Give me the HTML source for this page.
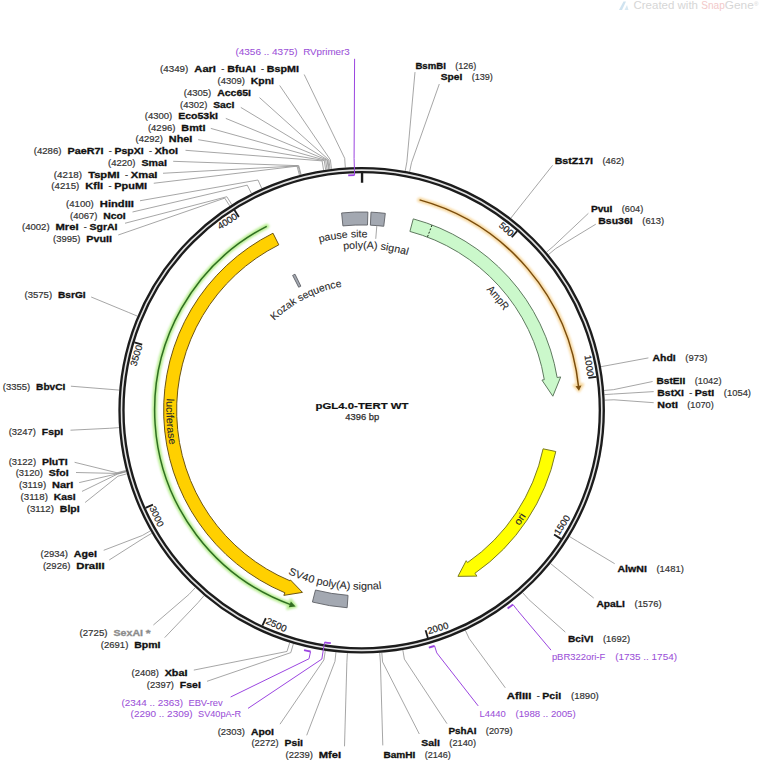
<!DOCTYPE html><html><head><meta charset="utf-8"><style>html,body{margin:0;padding:0;background:#fff;overflow:hidden;width:760px;height:762px}svg{display:block}</style></head><body>
<svg width="760" height="762" viewBox="0 0 760 762" font-family='"Liberation Sans", sans-serif'>
<rect width="760" height="762" fill="#fff"/>
<g opacity="1">
<path d="M619,10 L623.5,1.5 L626,1.5 L622,10 Z" fill="#cfe3f0"/><path d="M624.5,10 L627,5 L628.5,10 Z" fill="#d9e9f3"/>
<text x="633.5" y="9.2" font-size="10.6" fill="#d6d6d6" textLength="64.5" lengthAdjust="spacingAndGlyphs">Created with</text>
<text x="701.3" y="9.2" font-size="10.6" fill="#f2c9c9" textLength="23.5" lengthAdjust="spacingAndGlyphs">Snap</text>
<text x="724.8" y="9.2" font-size="10.6" fill="#d6d6d6" textLength="29" lengthAdjust="spacingAndGlyphs">Gene</text>
<text x="754" y="5.5" font-size="6" fill="#d6d6d6">®</text>
</g>
<g fill="none" stroke="#8f8f8f" stroke-width="0.8">
<polyline points="345.32,167.5 344.7,158.32 304.2,74.5"/>
<polyline points="331.47,168.83 330.33,159.7 279.7,85.5"/>
<polyline points="330.09,169.01 328.9,159.88 259.5,97.6"/>
<polyline points="329.06,169.14 327.83,160.03 240.8,107.4"/>
<polyline points="328.37,169.24 327.11,160.12 225.8,118.4"/>
<polyline points="326.99,169.43 325.68,160.32 210.8,128.4"/>
<polyline points="325.62,169.63 324.25,160.53 198.2,139.7"/>
<polyline points="323.56,169.95 322.11,160.86 185.5,150.3"/>
<polyline points="301.09,174.61 298.8,165.7 173.2,161.3"/>
<polyline points="300.42,174.78 298.1,165.88 163,173.25"/>
<polyline points="299.41,175.05 297.05,166.15 153.75,183.25"/>
<polyline points="261.76,188.4 257.98,180.01 140,200.75"/>
<polyline points="251.41,193.36 247.24,185.16 132.5,212"/>
<polyline points="231.77,204.52 226.85,196.74 125,223.25"/>
<polyline points="229.71,205.83 224.72,198.1 118.25,235"/>
<polyline points="137.31,316.1 128.82,312.54 91.2,297"/>
<polyline points="119.19,390.1 110.02,389.34 70.9,386.2"/>
<polyline points="118.97,427.62 109.79,428.28 70.5,430.2"/>
<polyline points="125.92,470.47 117.01,472.75 74.6,462.3"/>
<polyline points="126.09,471.15 117.19,473.45 76,472.5"/>
<polyline points="126.18,471.48 117.28,473.8 79.2,482.6"/>
<polyline points="126.27,471.82 117.37,474.15 82,491.4"/>
<polyline points="126.81,473.84 117.93,476.24 85.1,502.5"/>
<polyline points="150.37,530.89 142.38,535.46 103.7,550.3"/>
<polyline points="151.76,533.3 143.83,537.96 109.2,560"/>
<polyline points="195.23,587.73 188.94,594.44 153.4,625"/>
<polyline points="204.05,595.61 198.09,602.62 164.7,637.6"/>
<polyline points="289.71,642.67 286.99,651.46 193.8,670.1"/>
<polyline points="293.38,643.77 290.8,652.61 207,681.3"/>
<polyline points="325.27,650.82 323.9,659.91 280,724.2"/>
<polyline points="335.96,652.19 334.99,661.34 306.7,735.3"/>
<polyline points="347.4,653.13 346.86,662.32 344.5,746.3"/>
<polyline points="379.72,652.88 380.4,662.05 382.8,745.4"/>
<polyline points="381.8,652.71 382.56,661.88 419.3,734"/>
<polyline points="402.83,650.04 404.39,659.11 447,723.7"/>
<polyline points="465.33,630.35 469.25,638.68 505.3,687.8"/>
<polyline points="522.67,592.65 528.76,599.54 565.3,632.1"/>
<polyline points="550.56,563.57 557.71,569.37 593.7,598"/>
<polyline points="569.58,536.59 577.44,541.36 614.7,563.7"/>
<polyline points="604.74,400.17 613.93,399.79 653.7,402.7"/>
<polyline points="604.45,394.61 613.63,394.02 653.7,391.6"/>
<polyline points="604.14,390.45 613.31,389.7 652.6,381.5"/>
<polyline points="601.02,366.67 610.07,365.02 648.4,357.9"/>
<polyline points="548.57,254.51 555.64,248.62 595.8,224.2"/>
<polyline points="546.56,252.12 553.55,246.14 588.4,213.3"/>
<polyline points="510.89,218.09 516.53,210.83 552.6,165.3"/>
<polyline points="409.67,171.74 411.49,162.72 439.3,84"/>
<polyline points="405.23,170.88 406.88,161.83 415,72.1"/>
</g>
<path d="M413.28,218.89 A198.2,198.2 0 0 1 557.13,377.54 L560.68,376.94 L552.84,396.21 L541.94,380.08 L544.31,379.68 A185.2,185.2 0 0 0 409.9,231.44 Z" fill="#cbf8cb" stroke="#5f7a5f" stroke-width="1"/>
<line x1="427.52" y1="236.84" x2="431.96" y2="225.15" stroke="#1e2e1e" stroke-width="1" stroke-dasharray="2,1.5"/>
<path d="M555.81,451.52 A198.5,198.5 0 0 1 474.94,573.25 L476.93,576.12 L457.94,576.36 L466.2,560.68 L467.52,562.57 A185.5,185.5 0 0 0 543.1,448.82 Z" fill="#ffff00" stroke="#7c7c22" stroke-width="1"/>
<path d="M272.99,233.21 A198,198 0 0 0 284.92,592.78 L283.84,595.36 L302.47,592.38 L290.35,579.87 L289.96,580.79 A185,185 0 0 1 278.81,244.83 Z" fill="#ffd000" stroke="#6e5612" stroke-width="1"/>
<path d="M341.61,212.97 A198.3,198.3 0 0 1 367.88,212.05 L367.47,225.04 A185.3,185.3 0 0 0 342.92,225.9 Z" fill="#a3a8b1" stroke="#5f6166" stroke-width="0.9"/>
<path d="M370.99,212.17 A198.3,198.3 0 0 1 385.3,213.37 L383.75,226.27 A185.3,185.3 0 0 0 370.38,225.16 Z" fill="#a3a8b1" stroke="#5f6166" stroke-width="0.9"/>
<path d="M347.15,607.72 A198,198 0 0 1 312.41,602.03 L315.49,590.02 A185.6,185.6 0 0 0 348.06,595.35 Z" fill="#a3a8b1" stroke="#5f6166" stroke-width="0.9"/>
<path d="M292.63,275.38 A151.5,151.5 0 0 1 295,274.2 L300.85,286.14 A138.2,138.2 0 0 0 298.69,287.22 Z" fill="#a3a8b1" stroke="#5f6166" stroke-width="0.9"/>
<line x1="376.83" y1="225.57" x2="375.74" y2="238.83" stroke="#8f8f8f" stroke-width="0.8"/>
<defs><filter id="soft" x="-10%" y="-10%" width="120%" height="120%"><feGaussianBlur stdDeviation="1"/></filter></defs>
<g filter="url(#soft)"><path d="M419.59,199.88 A218.2,218.2 0 0 1 578.65,387.44" fill="none" stroke="#f7d9a2" stroke-width="4.8" stroke-linecap="round"/>
<path d="M573.79,385.33 L579,391.04 L582.93,384.26 Z" fill="#f7d9a2" stroke="#f7d9a2" stroke-width="2.5" stroke-linejoin="round"/></g>
<path d="M419.59,199.88 A218.2,218.2 0 0 1 578.65,387.44" fill="none" stroke="#7a4c0c" stroke-width="1.5"/>
<path d="M575.51,386.26 L578.97,390.66 L581.47,385.59 Z" fill="#7a4e0e"/>
<g filter="url(#soft)"><path d="M266.71,226.31 A207,207 0 0 0 291.87,605.13" fill="none" stroke="#b8ee92" stroke-width="5.0" stroke-linecap="round"/>
<path d="M290.84,599.65 L295.97,606.55 L287.48,608.64 Z" fill="#b8ee92" stroke="#b8ee92" stroke-width="2.5" stroke-linejoin="round"/></g>
<path d="M266.71,226.31 A207,207 0 0 0 291.87,605.13" fill="none" stroke="#2f6e22" stroke-width="1.5"/>
<path d="M290.88,601.58 L295.63,606.44 L288.79,607.21 Z" fill="#336e22"/>
<circle cx="361.65" cy="410.25" r="240.15" fill="none" stroke="#1c1c1c" stroke-width="6.3"/>
<circle cx="361.65" cy="410.25" r="240.15" fill="none" stroke="#e2e2e2" stroke-width="1.6"/>
<line x1="362.06" y1="173.05" x2="362.05" y2="182.75" stroke="#1c1c1c" stroke-width="2.4"/>
<line x1="517.1" y1="231.09" x2="511.73" y2="237.28" stroke="#1c1c1c" stroke-width="1.8"/>
<text transform="translate(511.33,237.73) rotate(40.95)" x="-17.42" y="0" font-size="9.3" fill="#222" stroke="#222" stroke-width="0.18" textLength="16.22" lengthAdjust="spacingAndGlyphs">500</text>
<line x1="596.48" y1="376.8" x2="588.36" y2="377.95" stroke="#1c1c1c" stroke-width="1.8"/>
<text transform="translate(587.77,378.04) rotate(81.89)" x="-22.83" y="0" font-size="9.3" fill="#222" stroke="#222" stroke-width="0.18" textLength="21.63" lengthAdjust="spacingAndGlyphs">1000</text>
<line x1="560.95" y1="538.88" x2="554.06" y2="534.43" stroke="#1c1c1c" stroke-width="1.8"/>
<text transform="translate(558.09,537.03) rotate(-57.16)" x="1.5" y="0" font-size="9.4" fill="#222" stroke="#222" stroke-width="0.18" textLength="21.63" lengthAdjust="spacingAndGlyphs">1500</text>
<line x1="427.89" y1="638.01" x2="425.6" y2="630.14" stroke="#1c1c1c" stroke-width="1.8"/>
<text transform="translate(426.94,634.75) rotate(-16.21)" x="1.5" y="0" font-size="9.4" fill="#222" stroke="#222" stroke-width="0.18" textLength="21.63" lengthAdjust="spacingAndGlyphs">2000</text>
<line x1="262.41" y1="625.69" x2="265.84" y2="618.25" stroke="#1c1c1c" stroke-width="1.8"/>
<text transform="translate(263.84,622.61) rotate(24.73)" x="1.5" y="0" font-size="9.4" fill="#222" stroke="#222" stroke-width="0.18" textLength="21.63" lengthAdjust="spacingAndGlyphs">2500</text>
<line x1="145.5" y1="507.94" x2="152.98" y2="504.57" stroke="#1c1c1c" stroke-width="1.8"/>
<text transform="translate(148.6,506.54) rotate(65.68)" x="1.5" y="0" font-size="9.4" fill="#222" stroke="#222" stroke-width="0.18" textLength="21.63" lengthAdjust="spacingAndGlyphs">3000</text>
<line x1="134.36" y1="342.39" x2="142.22" y2="344.73" stroke="#1c1c1c" stroke-width="1.8"/>
<text transform="translate(142.8,344.91) rotate(286.62)" x="-22.83" y="0" font-size="9.3" fill="#222" stroke="#222" stroke-width="0.18" textLength="21.63" lengthAdjust="spacingAndGlyphs">3500</text>
<line x1="234.45" y1="210.04" x2="238.85" y2="216.96" stroke="#1c1c1c" stroke-width="1.8"/>
<text transform="translate(239.17,217.47) rotate(327.57)" x="-22.83" y="0" font-size="9.3" fill="#222" stroke="#222" stroke-width="0.18" textLength="21.63" lengthAdjust="spacingAndGlyphs">4000</text>
<g fill="none" stroke="#9b45e0" stroke-width="1.8">
<path d="M348.2,175.33 A235.3,235.3 0 0 1 354.59,175.06"/>
<polyline points="354.59,175.06 354.09,158.36 354.6,58.8" stroke-width="1"/>
<path d="M310.56,651.5 A246.6,246.6 0 0 1 304.03,650.02"/>
<polyline points="310.56,651.5 309.03,658.74 230.6,697" stroke-width="1"/>
<path d="M330.84,643.22 A235,235 0 0 1 324.52,642.3"/>
<polyline points="324.52,642.3 321.84,659.09 248,708.4" stroke-width="1"/>
<path d="M512.94,604.48 A246.2,246.2 0 0 1 507.61,608.52"/>
<polyline points="512.94,604.48 517.74,610.63 551,650.1" stroke-width="1"/>
<path d="M434.56,645.82 A246.6,246.6 0 0 1 428.82,647.53"/>
<polyline points="434.56,645.82 436.75,652.89 478.2,705.9" stroke-width="1"/>
</g>
<text font-size="10.8" fill="#2a2a2a" stroke="#2a2a2a" stroke-width="0.1"><textPath href="#t1" startOffset="50%" text-anchor="middle" textLength="27.5" lengthAdjust="spacingAndGlyphs">AmpR</textPath></text>
<text font-size="10.4" fill="#2a2a2a" stroke="#2a2a2a" stroke-width="0.1"><textPath href="#t2" startOffset="50%" text-anchor="middle" textLength="12.28" lengthAdjust="spacingAndGlyphs">ori</textPath></text>
<text font-size="10.4" fill="#2a2a2a" stroke="#2a2a2a" stroke-width="0.1"><textPath href="#t3" startOffset="50%" text-anchor="middle" textLength="46.8" lengthAdjust="spacingAndGlyphs">luciferase</textPath></text>
<text font-size="10.4" fill="#2a2a2a" stroke="#2a2a2a" stroke-width="0.1"><textPath href="#t4" startOffset="50%" text-anchor="middle" textLength="48.61" lengthAdjust="spacingAndGlyphs">pause site</textPath></text>
<text font-size="10.4" fill="#2a2a2a" stroke="#2a2a2a" stroke-width="0.1"><textPath href="#t5" startOffset="50%" text-anchor="middle" textLength="64.78" lengthAdjust="spacingAndGlyphs">poly(A) signal</textPath></text>
<text font-size="10.4" fill="#2a2a2a" stroke="#2a2a2a" stroke-width="0.1"><textPath href="#t6" startOffset="50%" text-anchor="middle" textLength="76.75" lengthAdjust="spacingAndGlyphs">Kozak sequence</textPath></text>
<text font-size="10.5" fill="#2a2a2a" stroke="#2a2a2a" stroke-width="0.1"><textPath href="#t7" startOffset="50%" text-anchor="middle" textLength="95.71" lengthAdjust="spacingAndGlyphs">SV40 poly(A) signal</textPath></text>
<defs><path id="t1" d="M276.31,259.42 A173.3,173.3 0 0 1 493.43,522.8"/><path id="t2" d="M280.54,588.24 A195.6,195.6 0 0 0 498.75,270.74"/><path id="t3" d="M316.39,220.27 A195.3,195.3 0 0 0 339.2,604.26"/><path id="t4" d="M189.05,398.48 A173,173 0 0 1 527.86,362.27"/><path id="t5" d="M205.46,368.4 A161.7,161.7 0 0 1 522.73,396.16"/><path id="t6" d="M241.92,446.17 A125,125 0 0 1 461.87,335.55"/><path id="t7" d="M182.18,413.7 A179.5,179.5 0 0 0 531.47,468.39"/></defs>
<text x="315.5" y="408.9" font-size="9.9" font-weight="bold" fill="#111" stroke="#111" stroke-width="0.2" textLength="93" lengthAdjust="spacingAndGlyphs">pGL4.0-TERT WT</text>
<text x="345.3" y="420" font-size="8.8" fill="#2e2e2e" stroke="#2e2e2e" stroke-width="0.25" textLength="33.8" lengthAdjust="spacingAndGlyphs">4396 bp</text>
<text x="160" y="72" font-size="8.7" fill="#333" stroke="#333" stroke-width="0.18" textLength="28.29" lengthAdjust="spacingAndGlyphs">(4349)</text>
<text x="194.37" y="72" font-size="9.3" font-weight="bold" fill="#111" stroke="#111" stroke-width="0.3" textLength="21.61" lengthAdjust="spacingAndGlyphs">AarI</text>
<text x="221.39" y="72" font-size="8.7" fill="#333" stroke="#333" stroke-width="0.18" textLength="3.07" lengthAdjust="spacingAndGlyphs">-</text>
<text x="227.16" y="72" font-size="9.3" font-weight="bold" fill="#111" stroke="#111" stroke-width="0.3" textLength="28.53" lengthAdjust="spacingAndGlyphs">BfuAI</text>
<text x="261.1" y="72" font-size="8.7" fill="#333" stroke="#333" stroke-width="0.18" textLength="3.07" lengthAdjust="spacingAndGlyphs">-</text>
<text x="266.87" y="72" font-size="9.3" font-weight="bold" fill="#111" stroke="#111" stroke-width="0.3" textLength="32.13" lengthAdjust="spacingAndGlyphs">BspMI</text>
<text x="217.5" y="83.75" font-size="8.7" fill="#333" stroke="#333" stroke-width="0.18" textLength="27.36" lengthAdjust="spacingAndGlyphs">(4309)</text>
<text x="250.75" y="83.75" font-size="9.3" font-weight="bold" fill="#111" stroke="#111" stroke-width="0.3" textLength="23.25" lengthAdjust="spacingAndGlyphs">KpnI</text>
<text x="183.75" y="95.5" font-size="8.7" fill="#333" stroke="#333" stroke-width="0.18" textLength="27.52" lengthAdjust="spacingAndGlyphs">(4305)</text>
<text x="217.18" y="95.5" font-size="9.3" font-weight="bold" fill="#111" stroke="#111" stroke-width="0.3" textLength="33.82" lengthAdjust="spacingAndGlyphs">Acc65I</text>
<text x="180" y="107.5" font-size="8.7" fill="#333" stroke="#333" stroke-width="0.18" textLength="27.33" lengthAdjust="spacingAndGlyphs">(4302)</text>
<text x="213.21" y="107.5" font-size="9.3" font-weight="bold" fill="#111" stroke="#111" stroke-width="0.3" textLength="21.29" lengthAdjust="spacingAndGlyphs">SacI</text>
<text x="144.8" y="118.8" font-size="8.7" fill="#333" stroke="#333" stroke-width="0.18" textLength="27.47" lengthAdjust="spacingAndGlyphs">(4300)</text>
<text x="178.18" y="118.8" font-size="9.3" font-weight="bold" fill="#111" stroke="#111" stroke-width="0.3" textLength="39.82" lengthAdjust="spacingAndGlyphs">Eco53kI</text>
<text x="147.9" y="130.8" font-size="8.7" fill="#333" stroke="#333" stroke-width="0.18" textLength="27.54" lengthAdjust="spacingAndGlyphs">(4296)</text>
<text x="181.37" y="130.8" font-size="9.3" font-weight="bold" fill="#111" stroke="#111" stroke-width="0.3" textLength="24.13" lengthAdjust="spacingAndGlyphs">BmtI</text>
<text x="135.6" y="142.4" font-size="8.7" fill="#333" stroke="#333" stroke-width="0.18" textLength="27.4" lengthAdjust="spacingAndGlyphs">(4292)</text>
<text x="168.89" y="142.4" font-size="9.3" font-weight="bold" fill="#111" stroke="#111" stroke-width="0.3" textLength="23.51" lengthAdjust="spacingAndGlyphs">NheI</text>
<text x="33.7" y="154.2" font-size="8.7" fill="#333" stroke="#333" stroke-width="0.18" textLength="27.79" lengthAdjust="spacingAndGlyphs">(4286)</text>
<text x="67.47" y="154.2" font-size="9.3" font-weight="bold" fill="#111" stroke="#111" stroke-width="0.3" textLength="36" lengthAdjust="spacingAndGlyphs">PaeR7I</text>
<text x="108.78" y="154.2" font-size="8.7" fill="#333" stroke="#333" stroke-width="0.18" textLength="3.02" lengthAdjust="spacingAndGlyphs">-</text>
<text x="114.46" y="154.2" font-size="9.3" font-weight="bold" fill="#111" stroke="#111" stroke-width="0.3" textLength="29.24" lengthAdjust="spacingAndGlyphs">PspXI</text>
<text x="149.01" y="154.2" font-size="8.7" fill="#333" stroke="#333" stroke-width="0.18" textLength="3.02" lengthAdjust="spacingAndGlyphs">-</text>
<text x="154.68" y="154.2" font-size="9.3" font-weight="bold" fill="#111" stroke="#111" stroke-width="0.3" textLength="23.32" lengthAdjust="spacingAndGlyphs">XhoI</text>
<text x="108" y="165.75" font-size="8.7" fill="#333" stroke="#333" stroke-width="0.18" textLength="27.54" lengthAdjust="spacingAndGlyphs">(4220)</text>
<text x="141.46" y="165.75" font-size="9.3" font-weight="bold" fill="#111" stroke="#111" stroke-width="0.3" textLength="25.54" lengthAdjust="spacingAndGlyphs">SmaI</text>
<text x="53.75" y="177.5" font-size="8.7" fill="#333" stroke="#333" stroke-width="0.18" textLength="28.32" lengthAdjust="spacingAndGlyphs">(4218)</text>
<text x="88.16" y="177.5" font-size="9.3" font-weight="bold" fill="#111" stroke="#111" stroke-width="0.3" textLength="31.41" lengthAdjust="spacingAndGlyphs">TspMI</text>
<text x="124.99" y="177.5" font-size="8.7" fill="#333" stroke="#333" stroke-width="0.18" textLength="3.07" lengthAdjust="spacingAndGlyphs">-</text>
<text x="130.77" y="177.5" font-size="9.3" font-weight="bold" fill="#111" stroke="#111" stroke-width="0.3" textLength="26.73" lengthAdjust="spacingAndGlyphs">XmaI</text>
<text x="51.25" y="189" font-size="8.7" fill="#333" stroke="#333" stroke-width="0.18" textLength="28.08" lengthAdjust="spacingAndGlyphs">(4215)</text>
<text x="85.37" y="189" font-size="9.3" font-weight="bold" fill="#111" stroke="#111" stroke-width="0.3" textLength="17.84" lengthAdjust="spacingAndGlyphs">KflI</text>
<text x="108.57" y="189" font-size="8.7" fill="#333" stroke="#333" stroke-width="0.18" textLength="3.05" lengthAdjust="spacingAndGlyphs">-</text>
<text x="114.3" y="189" font-size="9.3" font-weight="bold" fill="#111" stroke="#111" stroke-width="0.3" textLength="32.7" lengthAdjust="spacingAndGlyphs">PpuMI</text>
<text x="66" y="206.75" font-size="8.7" fill="#333" stroke="#333" stroke-width="0.18" textLength="27.82" lengthAdjust="spacingAndGlyphs">(4100)</text>
<text x="99.81" y="206.75" font-size="9.3" font-weight="bold" fill="#111" stroke="#111" stroke-width="0.3" textLength="34.19" lengthAdjust="spacingAndGlyphs">HindIII</text>
<text x="70" y="218.75" font-size="8.7" fill="#333" stroke="#333" stroke-width="0.18" textLength="27.37" lengthAdjust="spacingAndGlyphs">(4067)</text>
<text x="103.26" y="218.75" font-size="9.3" font-weight="bold" fill="#111" stroke="#111" stroke-width="0.3" textLength="22.49" lengthAdjust="spacingAndGlyphs">NcoI</text>
<text x="22" y="230" font-size="8.7" fill="#333" stroke="#333" stroke-width="0.18" textLength="27.57" lengthAdjust="spacingAndGlyphs">(4002)</text>
<text x="55.51" y="230" font-size="9.3" font-weight="bold" fill="#111" stroke="#111" stroke-width="0.3" textLength="23.11" lengthAdjust="spacingAndGlyphs">MreI</text>
<text x="83.88" y="230" font-size="8.7" fill="#333" stroke="#333" stroke-width="0.18" textLength="2.99" lengthAdjust="spacingAndGlyphs">-</text>
<text x="89.51" y="230" font-size="9.3" font-weight="bold" fill="#111" stroke="#111" stroke-width="0.3" textLength="27.99" lengthAdjust="spacingAndGlyphs">SgrAI</text>
<text x="53" y="242" font-size="8.7" fill="#333" stroke="#333" stroke-width="0.18" textLength="27.41" lengthAdjust="spacingAndGlyphs">(3995)</text>
<text x="86.3" y="242" font-size="9.3" font-weight="bold" fill="#111" stroke="#111" stroke-width="0.3" textLength="25.7" lengthAdjust="spacingAndGlyphs">PvuII</text>
<text x="24.5" y="297.9" font-size="8.7" fill="#333" stroke="#333" stroke-width="0.18" textLength="27.57" lengthAdjust="spacingAndGlyphs">(3575)</text>
<text x="58" y="297.9" font-size="9.3" font-weight="bold" fill="#111" stroke="#111" stroke-width="0.3" textLength="27.7" lengthAdjust="spacingAndGlyphs">BsrGI</text>
<text x="2.8" y="390.3" font-size="8.7" fill="#333" stroke="#333" stroke-width="0.18" textLength="27.42" lengthAdjust="spacingAndGlyphs">(3355)</text>
<text x="36.12" y="390.3" font-size="9.3" font-weight="bold" fill="#111" stroke="#111" stroke-width="0.3" textLength="29.28" lengthAdjust="spacingAndGlyphs">BbvCI</text>
<text x="8.7" y="434.8" font-size="8.7" fill="#333" stroke="#333" stroke-width="0.18" textLength="27.3" lengthAdjust="spacingAndGlyphs">(3247)</text>
<text x="41.88" y="434.8" font-size="9.3" font-weight="bold" fill="#111" stroke="#111" stroke-width="0.3" textLength="21.32" lengthAdjust="spacingAndGlyphs">FspI</text>
<text x="8.7" y="464.7" font-size="8.7" fill="#333" stroke="#333" stroke-width="0.18" textLength="27.36" lengthAdjust="spacingAndGlyphs">(3122)</text>
<text x="41.94" y="464.7" font-size="9.3" font-weight="bold" fill="#111" stroke="#111" stroke-width="0.3" textLength="25.66" lengthAdjust="spacingAndGlyphs">PluTI</text>
<text x="15.7" y="476.3" font-size="8.7" fill="#333" stroke="#333" stroke-width="0.18" textLength="27.24" lengthAdjust="spacingAndGlyphs">(3120)</text>
<text x="48.79" y="476.3" font-size="9.3" font-weight="bold" fill="#111" stroke="#111" stroke-width="0.3" textLength="19.91" lengthAdjust="spacingAndGlyphs">SfoI</text>
<text x="19" y="488.1" font-size="8.7" fill="#333" stroke="#333" stroke-width="0.18" textLength="27.15" lengthAdjust="spacingAndGlyphs">(3119)</text>
<text x="52" y="488.1" font-size="9.3" font-weight="bold" fill="#111" stroke="#111" stroke-width="0.3" textLength="21.3" lengthAdjust="spacingAndGlyphs">NarI</text>
<text x="20.6" y="499.7" font-size="8.7" fill="#333" stroke="#333" stroke-width="0.18" textLength="27.27" lengthAdjust="spacingAndGlyphs">(3118)</text>
<text x="53.74" y="499.7" font-size="9.3" font-weight="bold" fill="#111" stroke="#111" stroke-width="0.3" textLength="21.76" lengthAdjust="spacingAndGlyphs">KasI</text>
<text x="26.7" y="511.7" font-size="8.7" fill="#333" stroke="#333" stroke-width="0.18" textLength="27.28" lengthAdjust="spacingAndGlyphs">(3112)</text>
<text x="59.85" y="511.7" font-size="9.3" font-weight="bold" fill="#111" stroke="#111" stroke-width="0.3" textLength="19.75" lengthAdjust="spacingAndGlyphs">BlpI</text>
<text x="40.5" y="557.3" font-size="8.7" fill="#333" stroke="#333" stroke-width="0.18" textLength="27.47" lengthAdjust="spacingAndGlyphs">(2934)</text>
<text x="73.87" y="557.3" font-size="9.3" font-weight="bold" fill="#111" stroke="#111" stroke-width="0.3" textLength="23.03" lengthAdjust="spacingAndGlyphs">AgeI</text>
<text x="42.9" y="569" font-size="8.7" fill="#333" stroke="#333" stroke-width="0.18" textLength="27.51" lengthAdjust="spacingAndGlyphs">(2926)</text>
<text x="76.32" y="569" font-size="9.3" font-weight="bold" fill="#111" stroke="#111" stroke-width="0.3" textLength="28.28" lengthAdjust="spacingAndGlyphs">DraIII</text>
<text x="79.5" y="635.7" font-size="8.7" fill="#333" stroke="#333" stroke-width="0.18" textLength="28" lengthAdjust="spacingAndGlyphs">(2725)</text>
<text x="113.52" y="635.7" font-size="9.3" font-weight="bold" fill="#8c8c8c" stroke="#8c8c8c" stroke-width="0.3" textLength="29.47" lengthAdjust="spacingAndGlyphs">SexAI</text>
<text x="145.67" y="635.7" font-size="9.3" font-weight="bold" fill="#8c8c8c" stroke="#8c8c8c" stroke-width="0.3" textLength="4.83" lengthAdjust="spacingAndGlyphs">*</text>
<text x="100.8" y="647.5" font-size="8.7" fill="#333" stroke="#333" stroke-width="0.18" textLength="27.52" lengthAdjust="spacingAndGlyphs">(2691)</text>
<text x="134.23" y="647.5" font-size="9.3" font-weight="bold" fill="#111" stroke="#111" stroke-width="0.3" textLength="26.27" lengthAdjust="spacingAndGlyphs">BpmI</text>
<text x="131.6" y="676.2" font-size="8.7" fill="#333" stroke="#333" stroke-width="0.18" textLength="27.2" lengthAdjust="spacingAndGlyphs">(2408)</text>
<text x="164.65" y="676.2" font-size="9.3" font-weight="bold" fill="#111" stroke="#111" stroke-width="0.3" textLength="22.75" lengthAdjust="spacingAndGlyphs">XbaI</text>
<text x="146.8" y="687.8" font-size="8.7" fill="#333" stroke="#333" stroke-width="0.18" textLength="27.22" lengthAdjust="spacingAndGlyphs">(2397)</text>
<text x="179.88" y="687.8" font-size="9.3" font-weight="bold" fill="#111" stroke="#111" stroke-width="0.3" textLength="20.92" lengthAdjust="spacingAndGlyphs">FseI</text>
<text x="217.7" y="734.9" font-size="8.7" fill="#333" stroke="#333" stroke-width="0.18" textLength="27.33" lengthAdjust="spacingAndGlyphs">(2303)</text>
<text x="250.91" y="734.9" font-size="9.3" font-weight="bold" fill="#111" stroke="#111" stroke-width="0.3" textLength="22.99" lengthAdjust="spacingAndGlyphs">ApoI</text>
<text x="251.4" y="746.3" font-size="8.7" fill="#333" stroke="#333" stroke-width="0.18" textLength="27.31" lengthAdjust="spacingAndGlyphs">(2272)</text>
<text x="284.58" y="746.3" font-size="9.3" font-weight="bold" fill="#111" stroke="#111" stroke-width="0.3" textLength="18.42" lengthAdjust="spacingAndGlyphs">PsiI</text>
<text x="285.5" y="758.3" font-size="8.7" fill="#333" stroke="#333" stroke-width="0.18" textLength="27.39" lengthAdjust="spacingAndGlyphs">(2239)</text>
<text x="318.78" y="758.3" font-size="9.3" font-weight="bold" fill="#111" stroke="#111" stroke-width="0.3" textLength="22.42" lengthAdjust="spacingAndGlyphs">MfeI</text>
<text x="415.4" y="68.8" font-size="9.3" font-weight="bold" fill="#111" stroke="#111" stroke-width="0.3" textLength="30.5" lengthAdjust="spacingAndGlyphs">BsmBI</text>
<text x="455.15" y="68.8" font-size="8.7" fill="#333" stroke="#333" stroke-width="0.18" textLength="21.15" lengthAdjust="spacingAndGlyphs">(126)</text>
<text x="440.8" y="80.4" font-size="9.3" font-weight="bold" fill="#111" stroke="#111" stroke-width="0.3" textLength="21.56" lengthAdjust="spacingAndGlyphs">SpeI</text>
<text x="471.65" y="80.4" font-size="8.7" fill="#333" stroke="#333" stroke-width="0.18" textLength="21.25" lengthAdjust="spacingAndGlyphs">(139)</text>
<text x="554.7" y="163.6" font-size="9.3" font-weight="bold" fill="#111" stroke="#111" stroke-width="0.3" textLength="38.31" lengthAdjust="spacingAndGlyphs">BstZ17I</text>
<text x="602.5" y="163.6" font-size="8.7" fill="#333" stroke="#333" stroke-width="0.18" textLength="21.7" lengthAdjust="spacingAndGlyphs">(462)</text>
<text x="590.9" y="212" font-size="9.3" font-weight="bold" fill="#111" stroke="#111" stroke-width="0.3" textLength="21.55" lengthAdjust="spacingAndGlyphs">PvuI</text>
<text x="621.81" y="212" font-size="8.7" fill="#333" stroke="#333" stroke-width="0.18" textLength="21.39" lengthAdjust="spacingAndGlyphs">(604)</text>
<text x="598.3" y="223.8" font-size="9.3" font-weight="bold" fill="#111" stroke="#111" stroke-width="0.3" textLength="34.35" lengthAdjust="spacingAndGlyphs">Bsu36I</text>
<text x="642.25" y="223.8" font-size="8.7" fill="#333" stroke="#333" stroke-width="0.18" textLength="21.95" lengthAdjust="spacingAndGlyphs">(613)</text>
<text x="652.6" y="361" font-size="9.3" font-weight="bold" fill="#111" stroke="#111" stroke-width="0.3" textLength="23.14" lengthAdjust="spacingAndGlyphs">AhdI</text>
<text x="685.37" y="361" font-size="8.7" fill="#333" stroke="#333" stroke-width="0.18" textLength="22.03" lengthAdjust="spacingAndGlyphs">(973)</text>
<text x="656.4" y="384.2" font-size="9.3" font-weight="bold" fill="#111" stroke="#111" stroke-width="0.3" textLength="28.84" lengthAdjust="spacingAndGlyphs">BstEII</text>
<text x="694.72" y="384.2" font-size="8.7" fill="#333" stroke="#333" stroke-width="0.18" textLength="26.78" lengthAdjust="spacingAndGlyphs">(1042)</text>
<text x="657.3" y="395.8" font-size="9.3" font-weight="bold" fill="#111" stroke="#111" stroke-width="0.3" textLength="26.69" lengthAdjust="spacingAndGlyphs">BstXI</text>
<text x="689.18" y="395.8" font-size="8.7" fill="#333" stroke="#333" stroke-width="0.18" textLength="2.95" lengthAdjust="spacingAndGlyphs">-</text>
<text x="694.73" y="395.8" font-size="9.3" font-weight="bold" fill="#111" stroke="#111" stroke-width="0.3" textLength="19.52" lengthAdjust="spacingAndGlyphs">PstI</text>
<text x="723.85" y="395.8" font-size="8.7" fill="#333" stroke="#333" stroke-width="0.18" textLength="27.15" lengthAdjust="spacingAndGlyphs">(1054)</text>
<text x="657.3" y="407.8" font-size="9.3" font-weight="bold" fill="#111" stroke="#111" stroke-width="0.3" textLength="20.68" lengthAdjust="spacingAndGlyphs">NotI</text>
<text x="687.31" y="407.8" font-size="8.7" fill="#333" stroke="#333" stroke-width="0.18" textLength="26.39" lengthAdjust="spacingAndGlyphs">(1070)</text>
<text x="617.5" y="571.7" font-size="9.3" font-weight="bold" fill="#111" stroke="#111" stroke-width="0.3" textLength="29.31" lengthAdjust="spacingAndGlyphs">AlwNI</text>
<text x="656.47" y="571.7" font-size="8.7" fill="#333" stroke="#333" stroke-width="0.18" textLength="27.33" lengthAdjust="spacingAndGlyphs">(1481)</text>
<text x="596.4" y="606.8" font-size="9.3" font-weight="bold" fill="#111" stroke="#111" stroke-width="0.3" textLength="28.49" lengthAdjust="spacingAndGlyphs">ApaLI</text>
<text x="634.51" y="606.8" font-size="8.7" fill="#333" stroke="#333" stroke-width="0.18" textLength="27.19" lengthAdjust="spacingAndGlyphs">(1576)</text>
<text x="568" y="642" font-size="9.3" font-weight="bold" fill="#111" stroke="#111" stroke-width="0.3" textLength="25.43" lengthAdjust="spacingAndGlyphs">BciVI</text>
<text x="603.01" y="642" font-size="8.7" fill="#333" stroke="#333" stroke-width="0.18" textLength="27.09" lengthAdjust="spacingAndGlyphs">(1692)</text>
<text x="506.8" y="698.8" font-size="9.3" font-weight="bold" fill="#111" stroke="#111" stroke-width="0.3" textLength="24.53" lengthAdjust="spacingAndGlyphs">AflIII</text>
<text x="536.65" y="698.8" font-size="8.7" fill="#333" stroke="#333" stroke-width="0.18" textLength="3.02" lengthAdjust="spacingAndGlyphs">-</text>
<text x="542.34" y="698.8" font-size="9.3" font-weight="bold" fill="#111" stroke="#111" stroke-width="0.3" textLength="18.76" lengthAdjust="spacingAndGlyphs">PciI</text>
<text x="570.95" y="698.8" font-size="8.7" fill="#333" stroke="#333" stroke-width="0.18" textLength="27.85" lengthAdjust="spacingAndGlyphs">(1890)</text>
<text x="448.4" y="733.9" font-size="9.3" font-weight="bold" fill="#111" stroke="#111" stroke-width="0.3" textLength="28.03" lengthAdjust="spacingAndGlyphs">PshAI</text>
<text x="485.85" y="733.9" font-size="8.7" fill="#333" stroke="#333" stroke-width="0.18" textLength="26.65" lengthAdjust="spacingAndGlyphs">(2079)</text>
<text x="421.3" y="745.8" font-size="9.3" font-weight="bold" fill="#111" stroke="#111" stroke-width="0.3" textLength="18.58" lengthAdjust="spacingAndGlyphs">SalI</text>
<text x="449.32" y="745.8" font-size="8.7" fill="#333" stroke="#333" stroke-width="0.18" textLength="26.68" lengthAdjust="spacingAndGlyphs">(2140)</text>
<text x="383.4" y="757.6" font-size="9.3" font-weight="bold" fill="#111" stroke="#111" stroke-width="0.3" textLength="31.96" lengthAdjust="spacingAndGlyphs">BamHI</text>
<text x="424.65" y="757.6" font-size="8.7" fill="#333" stroke="#333" stroke-width="0.18" textLength="26.25" lengthAdjust="spacingAndGlyphs">(2146)</text>
<text x="235.4" y="54.5" font-size="8.7" fill="#9b50d8" stroke="#9b50d8" stroke-width="0.06" textLength="62.23" lengthAdjust="spacingAndGlyphs">(4356 .. 4375)</text>
<text x="303.17" y="54.5" font-size="8.7" fill="#9b50d8" stroke="#9b50d8" stroke-width="0.06" textLength="46.53" lengthAdjust="spacingAndGlyphs">RVprimer3</text>
<text x="121.4" y="705.7" font-size="8.7" fill="#9b50d8" stroke="#9b50d8" stroke-width="0.06" textLength="61.53" lengthAdjust="spacingAndGlyphs">(2344 .. 2363)</text>
<text x="188.4" y="705.7" font-size="8.7" fill="#9b50d8" stroke="#9b50d8" stroke-width="0.06" textLength="34.3" lengthAdjust="spacingAndGlyphs">EBV-rev</text>
<text x="130.6" y="717.3" font-size="8.7" fill="#9b50d8" stroke="#9b50d8" stroke-width="0.06" textLength="61.98" lengthAdjust="spacingAndGlyphs">(2290 .. 2309)</text>
<text x="198.1" y="717.3" font-size="8.7" fill="#9b50d8" stroke="#9b50d8" stroke-width="0.06" textLength="43.1" lengthAdjust="spacingAndGlyphs">SV40pA-R</text>
<text x="551.9" y="659.7" font-size="8.7" fill="#9b50d8" stroke="#9b50d8" stroke-width="0.06" textLength="53.35" lengthAdjust="spacingAndGlyphs">pBR322ori-F</text>
<text x="615.16" y="659.7" font-size="8.7" fill="#9b50d8" stroke="#9b50d8" stroke-width="0.06" textLength="61.84" lengthAdjust="spacingAndGlyphs">(1735 .. 1754)</text>
<text x="479.6" y="716.7" font-size="8.7" fill="#9b50d8" stroke="#9b50d8" stroke-width="0.06" textLength="26.18" lengthAdjust="spacingAndGlyphs">L4440</text>
<text x="515.43" y="716.7" font-size="8.7" fill="#9b50d8" stroke="#9b50d8" stroke-width="0.06" textLength="60.27" lengthAdjust="spacingAndGlyphs">(1988 .. 2005)</text>
</svg></body></html>
